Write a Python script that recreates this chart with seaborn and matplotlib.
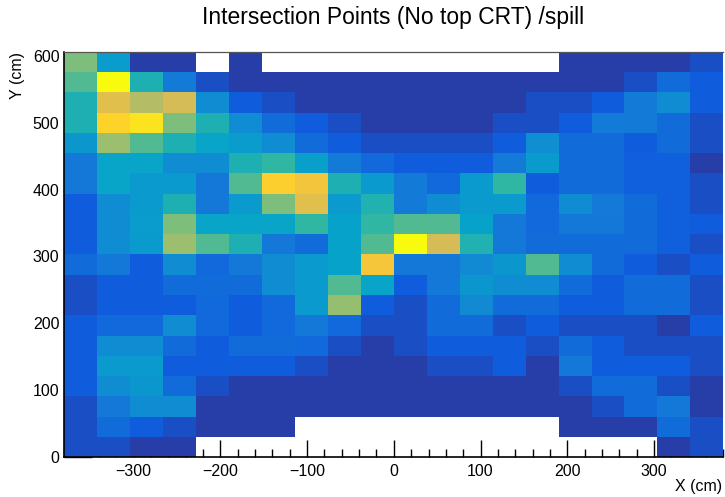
import numpy as np
import pandas as pd
import matplotlib
matplotlib.use("Agg")
import matplotlib.pyplot as plt
import seaborn as sns
from matplotlib.colors import LinearSegmentedColormap
from matplotlib.ticker import MultipleLocator

# Binning of the CRT intersection map
x_edges = np.arange(-380, 381, 38)          # 20 bins in X (cm)
y_edges = np.linspace(0, 606, 21)           # 20 bins in Y (cm)

# Intersections per spill (relative), one list per Y bin, top row first.
# None marks an empty bin.
rate_rows = [
    [0.61, 0.35, 0.05, 0.05, None, 0.05, None, None, None, None, None, None, None, None, None, 0.05, 0.05, 0.05, 0.05, 0.09],
    [0.55, 1.00, 0.45, 0.23, 0.09, 0.05, 0.05, 0.05, 0.05, 0.05, 0.05, 0.05, 0.05, 0.05, 0.05, 0.05, 0.05, 0.09, 0.18, 0.13],
    [0.45, 0.79, 0.70, 0.76, 0.29, 0.13, 0.09, 0.05, 0.05, 0.05, 0.05, 0.05, 0.05, 0.05, 0.09, 0.09, 0.13, 0.23, 0.29, 0.13],
    [0.45, 0.90, 0.94, 0.61, 0.45, 0.29, 0.18, 0.13, 0.09, 0.05, 0.05, 0.05, 0.05, 0.09, 0.09, 0.13, 0.23, 0.23, 0.18, 0.09],
    [0.33, 0.66, 0.55, 0.45, 0.38, 0.35, 0.29, 0.18, 0.13, 0.09, 0.09, 0.09, 0.09, 0.13, 0.30, 0.18, 0.18, 0.13, 0.18, 0.09],
    [0.22, 0.38, 0.38, 0.29, 0.29, 0.45, 0.50, 0.36, 0.23, 0.17, 0.13, 0.13, 0.13, 0.23, 0.34, 0.18, 0.18, 0.14, 0.14, 0.05],
    [0.22, 0.38, 0.34, 0.34, 0.22, 0.55, 0.89, 0.84, 0.45, 0.34, 0.23, 0.17, 0.34, 0.50, 0.13, 0.18, 0.18, 0.14, 0.14, 0.09],
    [0.13, 0.29, 0.34, 0.45, 0.22, 0.34, 0.61, 0.79, 0.34, 0.46, 0.23, 0.29, 0.34, 0.34, 0.17, 0.29, 0.23, 0.18, 0.14, 0.09],
    [0.13, 0.29, 0.35, 0.61, 0.38, 0.38, 0.38, 0.50, 0.37, 0.50, 0.55, 0.55, 0.37, 0.22, 0.17, 0.22, 0.22, 0.18, 0.14, 0.13],
    [0.13, 0.29, 0.34, 0.66, 0.55, 0.45, 0.22, 0.18, 0.37, 0.55, 1.00, 0.76, 0.46, 0.22, 0.18, 0.18, 0.18, 0.18, 0.14, 0.09],
    [0.18, 0.22, 0.13, 0.29, 0.17, 0.22, 0.29, 0.34, 0.37, 0.85, 0.22, 0.22, 0.28, 0.33, 0.55, 0.29, 0.18, 0.13, 0.09, 0.13],
    [0.09, 0.13, 0.13, 0.18, 0.18, 0.18, 0.29, 0.34, 0.55, 0.38, 0.13, 0.22, 0.33, 0.29, 0.29, 0.18, 0.13, 0.18, 0.18, 0.09],
    [0.09, 0.13, 0.13, 0.13, 0.17, 0.13, 0.17, 0.34, 0.65, 0.13, 0.09, 0.18, 0.28, 0.18, 0.18, 0.13, 0.13, 0.18, 0.18, 0.09],
    [0.13, 0.17, 0.17, 0.29, 0.17, 0.13, 0.17, 0.22, 0.17, 0.09, 0.09, 0.18, 0.18, 0.09, 0.13, 0.09, 0.09, 0.09, 0.05, 0.13],
    [0.13, 0.29, 0.29, 0.18, 0.13, 0.18, 0.18, 0.17, 0.09, 0.05, 0.09, 0.13, 0.13, 0.13, 0.09, 0.18, 0.13, 0.09, 0.09, 0.09],
    [0.13, 0.34, 0.34, 0.13, 0.13, 0.13, 0.13, 0.09, 0.05, 0.05, 0.05, 0.09, 0.09, 0.13, 0.05, 0.22, 0.13, 0.13, 0.13, 0.09],
    [0.13, 0.29, 0.33, 0.18, 0.09, 0.05, 0.05, 0.05, 0.05, 0.05, 0.05, 0.05, 0.05, 0.05, 0.05, 0.09, 0.18, 0.18, 0.09, 0.05],
    [0.09, 0.22, 0.29, 0.29, 0.05, 0.05, 0.05, 0.05, 0.05, 0.05, 0.05, 0.05, 0.05, 0.05, 0.05, 0.05, 0.09, 0.18, 0.22, 0.05],
    [0.09, 0.18, 0.13, 0.09, 0.05, 0.05, 0.05, None, None, None, None, None, None, None, None, 0.05, 0.05, 0.05, 0.18, 0.09],
    [0.09, 0.09, 0.05, 0.05, None, None, None, None, None, None, None, None, None, None, None, None, None, None, 0.05, 0.09],
]

# ROOT "kBird" palette
bird_stops = [0.0, 0.125, 0.25, 0.375, 0.5, 0.625, 0.75, 0.875, 1.0]
bird_r = [0.2082, 0.0592, 0.0780, 0.0232, 0.1802, 0.5301, 0.8186, 0.9956, 0.9764]
bird_g = [0.1664, 0.3599, 0.5041, 0.6419, 0.7178, 0.7492, 0.7328, 0.7862, 0.9832]
bird_b = [0.5293, 0.8684, 0.8385, 0.7914, 0.6425, 0.4662, 0.3499, 0.1968, 0.0539]
bird = LinearSegmentedColormap.from_list(
    "bird", list(zip(bird_stops, zip(bird_r, bird_g, bird_b))))

# Long-form table of bin centres and weights
x_centres = 0.5 * (x_edges[:-1] + x_edges[1:])
y_centres = 0.5 * (y_edges[:-1] + y_edges[1:])
records = []
n_rows = len(rate_rows)
for r, row in enumerate(rate_rows):
    yc = y_centres[n_rows - 1 - r]
    for c, val in enumerate(row):
        if val is not None:
            records.append((x_centres[c], yc, val))
df = pd.DataFrame(records, columns=["x", "y", "rate"])

sns.set_style("white")
plt.rcParams["font.family"] = ["Liberation Sans", "DejaVu Sans"]
plt.rcParams["text.color"] = "black"
plt.rcParams["axes.labelcolor"] = "black"
plt.rcParams["xtick.color"] = "black"
plt.rcParams["ytick.color"] = "black"

fig = plt.figure(figsize=(7.25, 4.97), dpi=100)
ax = fig.add_axes([0.0887, 0.0799, 0.9090, 0.8161])

sns.histplot(data=df, x="x", y="y", weights="rate", bins=[x_edges, y_edges],
             cmap=bird, vmin=0, vmax=1, cbar=False, ax=ax)

ax.set_xlim(x_edges[0], x_edges[-1])
ax.set_ylim(y_edges[0], y_edges[-1])

ax.xaxis.set_major_locator(MultipleLocator(100))
ax.xaxis.set_minor_locator(MultipleLocator(20))
ax.yaxis.set_major_locator(MultipleLocator(100))
ax.yaxis.set_minor_locator(MultipleLocator(20))

ax.tick_params(axis="x", which="major", direction="in", length=12, width=1,
               color="black", labelcolor="black", labelsize=11.5, pad=4.5,
               bottom=True, top=False)
ax.tick_params(axis="x", which="minor", direction="in", length=6, width=1,
               color="black", bottom=True, top=False)
ax.tick_params(axis="y", which="major", direction="in", length=20, width=1,
               color="black", labelcolor="black", labelsize=11.5, pad=3.5,
               left=True, right=False)
ax.tick_params(axis="y", which="minor", direction="in", length=10, width=1,
               color="black", left=True, right=False)

for side in ["left", "bottom"]:
    ax.spines[side].set_color("black")
    ax.spines[side].set_linewidth(1.2)
ax.spines["top"].set_color("#555555")
ax.spines["top"].set_linewidth(0.9)
ax.spines["right"].set_visible(False)
ax.grid(False)

ax.set_xlabel("X (cm)", fontsize=11.5, color="black", ha="right", va="center")
ax.xaxis.set_label_coords(0.998, -0.071)
ax.set_ylabel("Y (cm)", fontsize=11.5, color="black", ha="right", va="center")
ax.yaxis.set_label_coords(-0.071, 1.0)

fig.text(0.542, 0.964, "Intersection Points (No top CRT) /spill",
         fontsize=16.5, color="black", ha="center", va="center")

fig.savefig("out.png", dpi=100)
